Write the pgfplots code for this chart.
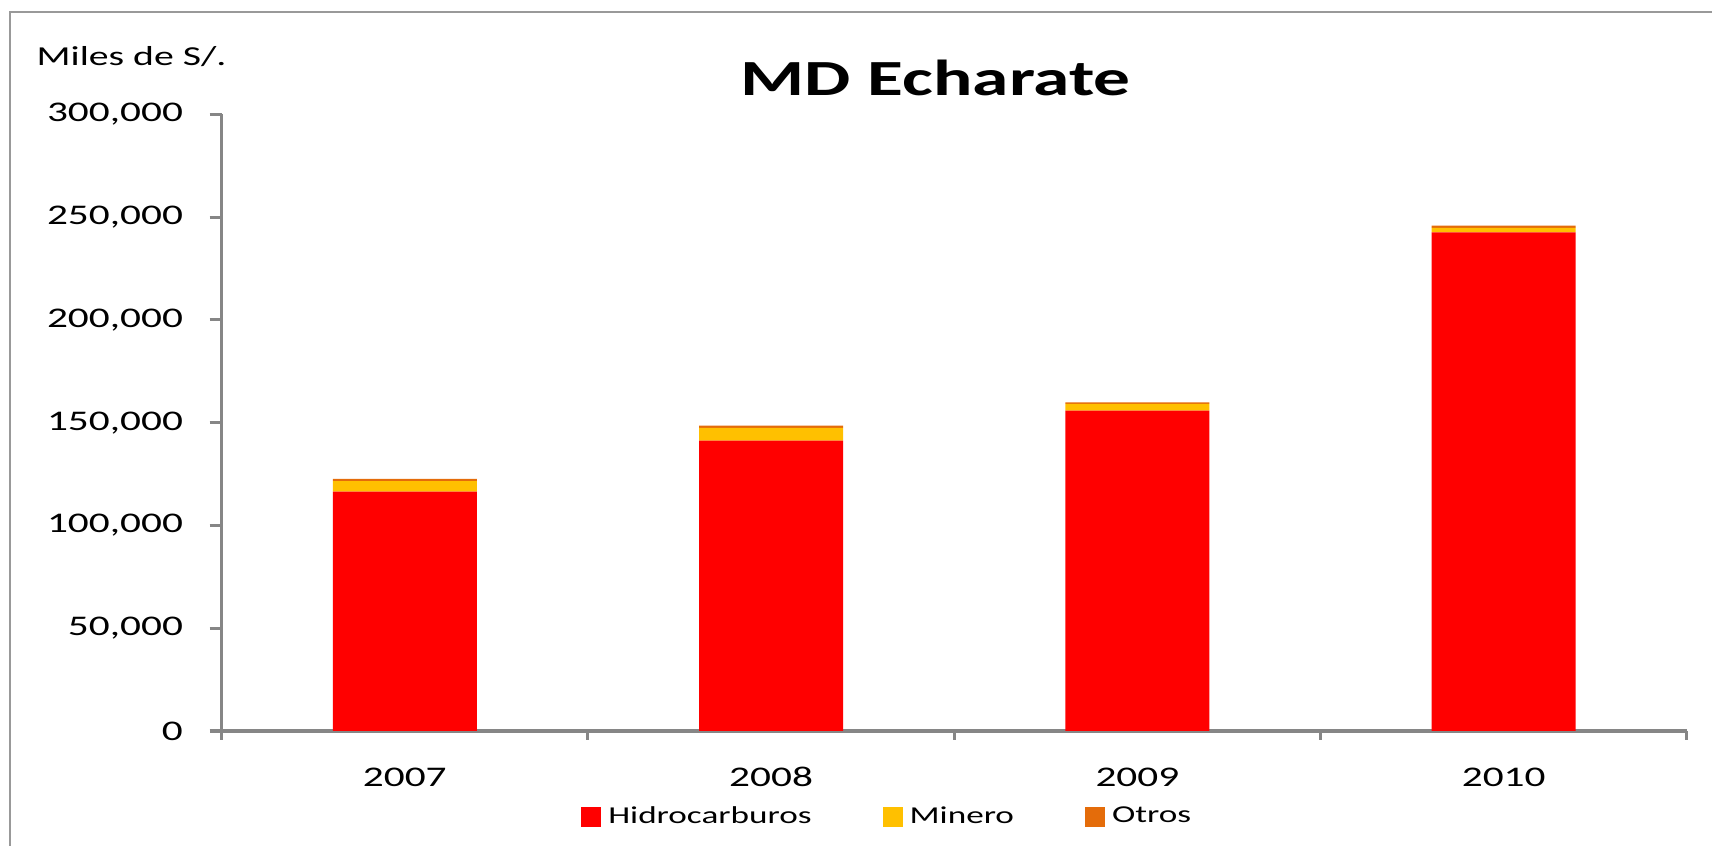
\documentclass[border=0pt]{standalone}
\usepackage{pgfplots}
\pgfplotsset{compat=1.18}
\usepackage{fontspec}
\setmainfont{Carlito}[FakeStretch=1.45]
\definecolor{hidro}{HTML}{FF0000}
\definecolor{minero}{HTML}{FFC000}
\definecolor{otros}{HTML}{E46C0A}
\definecolor{axgray}{HTML}{868686}
\pgfplotsset{sqlegend/.style={legend image code/.code={\fill[##1,draw=none] (0cm,-0.1cm) rectangle (0.2cm,0.1cm);}}}
\begin{document}
\begin{tikzpicture}[x=1cm,y=1cm]
\useasboundingbox (0,0) rectangle (17.12,8.46);
\draw[color=black!40, line width=0.8pt] (0.10,0) -- (0.10,8.34) -- (17.12,8.34);
\node[anchor=base, font=\bfseries\fontsize{14.4}{17}\selectfont] at (9.357,7.50) {MD Echarate};
\node[anchor=base west, inner sep=0pt, font=\fontsize{7.8}{9}\selectfont] at (0.36,7.80) {Miles de S/.};
\begin{axis}[
  at={(2.216cm,1.15cm)}, anchor=south west,
  scale only axis, width=14.652cm, height=6.167cm,
  ybar stacked, bar width=1.44cm,
  xmin=-0.5, xmax=3.5, ymin=0, ymax=300000,
  axis x line*=bottom, axis y line*=left,
  axis line style={draw=axgray, line width=0.9pt, -},
  xtick={0,1,2,3}, xticklabels={2007,2008,2009,2010},
  minor xtick={-0.5,0.5,1.5,2.5,3.5},
  major x tick style={draw=none},
  minor x tick style={draw=axgray, line width=0.9pt},
  ytick={0,50000,100000,150000,200000,250000,300000},
  ytick style={draw=axgray, line width=0.9pt},
  tick align=outside,
  major tick length=1.2mm,
  minor tick length=0.85mm,
  scaled y ticks=false,
  yticklabel style={/pgf/number format/fixed, /pgf/number format/precision=0, /pgf/number format/1000 sep={,}, /pgf/number format/assume math mode=true},
  ticklabel style={font=\fontsize{8.1}{10}\selectfont},
  xticklabel style={anchor=base, yshift=-4.3mm},
  yticklabel style={anchor=east, inner sep=0pt, xshift=-2.6mm},
  legend columns=3,
  legend style={draw=none, at={(0.4560,-0.140)}, anchor=center,
    font=\fontsize{6.9}{8}\selectfont,
    /tikz/every even column/.append style={column sep=0.64cm}},
  clip=false,
]
\addplot[fill=hidro, draw=none, sqlegend] coordinates {(0,116400) (1,141200) (2,155800) (3,242600)};
\addplot[fill=minero, draw=none, sqlegend] coordinates {(0,5200) (1,6300) (2,3300) (3,2200)};
\addplot[fill=otros, draw=none, sqlegend] coordinates {(0,1000) (1,1000) (2,800) (3,1000)};
\legend{Hidrocarburos, Minero, Otros}
\end{axis}
\end{tikzpicture}
\end{document}
